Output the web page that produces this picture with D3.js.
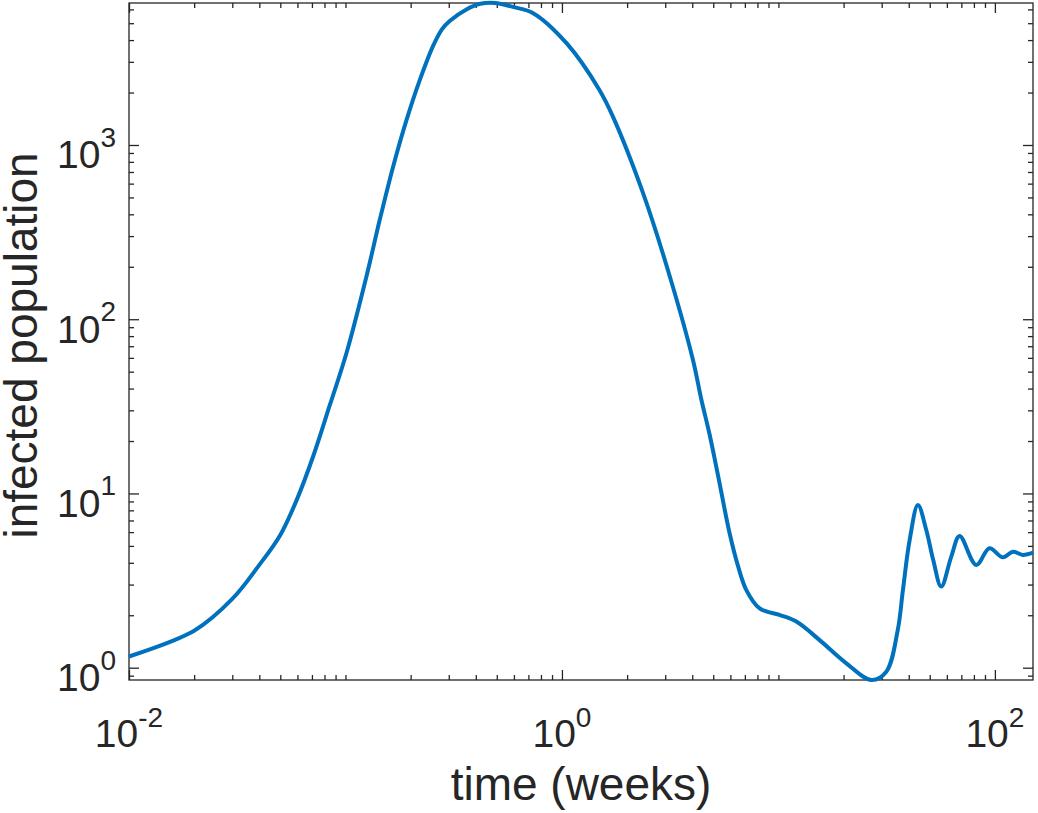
<html>

<head>
    <title>infected population</title>
    <script src="https://d3js.org/d3.v7.min.js"></script>
    <style>
        body {
            margin: 0;
            background: #fff;
        }

        svg {
            font-family: "Liberation Sans", Arial, Helvetica, sans-serif;
        }

        .line {
            stroke: #0072BD;
            stroke-width: 4;
            fill: none;
        }

        .frame {
            fill: none;
            stroke: #262626;
            stroke-width: 1.3;
        }

        .axis line {
            stroke: #262626;
            stroke-width: 1.3;
        }

        .tick-label {
            font-size: 39px;
            fill: #262626;
        }

        .title-text {
            font-size: 46px;
            fill: #262626;
        }
    </style>
</head>

<body>
    <div id="chart">
        <script>
            // time in weeks and infected population
            var timeWeeks = [0.01, 0.02, 0.03, 0.04, 0.05, 0.06, 0.071, 0.0847, 0.101, 0.125,
                0.144, 0.166, 0.1915, 0.2206, 0.254, 0.28, 0.303, 0.362, 0.42, 0.49, 0.6,
                0.736, 1.05, 1.49, 1.72, 2.37, 3.15, 4.03, 4.41, 4.81, 5.26,
                5.95, 6.52, 7.11, 8.19, 10.1, 12.1, 15.5, 20.6, 26.9, 31.5,
                35.6, 37.6, 40.4, 44.1, 48.2, 51.9, 56.5, 62.9, 68.7, 82.0,
                94.4, 108.8, 121, 134.6, 150];
            var infected = [1.16, 1.63, 2.48, 3.89, 5.78, 9.4, 16.4, 32.2, 63.8, 176,
                372, 751, 1393, 2364, 3705, 4640, 5150, 6000, 6460, 6530, 6180,
                5710, 3840, 2070, 1455, 529, 176, 58.4, 34.4, 21.8, 12.7,
                5.91, 3.8, 2.79, 2.19, 2.01, 1.84, 1.44, 1.06, 0.85, 0.948,
                1.65, 2.79, 5.41, 8.59, 6.17, 4.15, 2.92, 4.34, 5.70, 3.89,
                4.85, 4.30, 4.63, 4.44, 4.57];

            var xMajorTicks = [0.01, 1, 100];
            var xTickExponents = ["-2", "0", "2"];
            var yMajorTicks = [1, 10, 100, 1000];
            var yTickExponents = ["0", "1", "2", "3"];

            var xTitle = "time (weeks)";
            var yTitle = "infected population";

            var width = 1038;
            var height = 813;
            var plotLeft = 129, plotRight = 1033, plotTop = 3, plotBottom = 680;
            var majorTick = 10, minorTick = 5;

            var data = timeWeeks.map((t, i) => ({ t: t, v: infected[i] }));

            /* Scale (tight to the data) */
            var xScale = d3.scaleLog()
                .domain(d3.extent(timeWeeks))
                .range([plotLeft, plotRight]);

            var yScale = d3.scaleLog()
                .domain(d3.extent(infected))
                .range([plotBottom, plotTop]);

            var svg = d3.select("#chart").append("svg")
                .attr("width", width)
                .attr("height", height);

            /* Ticks, inward on all four sides */
            var xMinor = xScale.ticks().filter(d => xMajorTicks.indexOf(d) < 0);
            var yMinor = yScale.ticks().filter(d => yMajorTicks.indexOf(d) < 0);

            function ticks(axisFn, scale, values, size, transform) {
                svg.append("g")
                    .attr("class", "axis")
                    .attr("transform", transform)
                    .call(axisFn(scale).tickValues(values).tickSizeInner(-size).tickSizeOuter(0).tickFormat(""))
                    .call(g => g.select(".domain").remove());
            }

            ticks(d3.axisBottom, xScale, xMajorTicks, majorTick, `translate(0, ${plotBottom})`);
            ticks(d3.axisBottom, xScale, xMinor, minorTick, `translate(0, ${plotBottom})`);
            ticks(d3.axisTop, xScale, xMajorTicks, majorTick, `translate(0, ${plotTop})`);
            ticks(d3.axisTop, xScale, xMinor, minorTick, `translate(0, ${plotTop})`);
            ticks(d3.axisLeft, yScale, yMajorTicks, majorTick, `translate(${plotLeft}, 0)`);
            ticks(d3.axisLeft, yScale, yMinor, minorTick, `translate(${plotLeft}, 0)`);
            ticks(d3.axisRight, yScale, yMajorTicks, majorTick, `translate(${plotRight}, 0)`);
            ticks(d3.axisRight, yScale, yMinor, minorTick, `translate(${plotRight}, 0)`);

            svg.append("rect")
                .attr("class", "frame")
                .attr("x", plotLeft)
                .attr("y", plotTop)
                .attr("width", plotRight - plotLeft)
                .attr("height", plotBottom - plotTop);

            /* Line */
            var line = d3.line()
                .x(d => xScale(d.t))
                .y(d => yScale(d.v))
                .curve(d3.curveCatmullRom.alpha(0.5));

            svg.append("path")
                .datum(data)
                .attr("class", "line")
                .attr("d", line);

            /* Tick labels 10^k */
            var xl = svg.append("g").selectAll("text")
                .data(xMajorTicks).enter()
                .append("text")
                .attr("class", "tick-label")
                .attr("text-anchor", "middle")
                .attr("x", d => xScale(d))
                .attr("y", plotBottom + 67);
            xl.append("tspan").text("10");
            xl.append("tspan")
                .attr("dy", -20)
                .style("font-size", "28px")
                .text((d, i) => xTickExponents[i]);

            var yl = svg.append("g").selectAll("text")
                .data(yMajorTicks).enter()
                .append("text")
                .attr("class", "tick-label")
                .attr("text-anchor", "end")
                .attr("x", plotLeft - 13)
                .attr("y", d => yScale(d) + 23.5);
            yl.append("tspan").text("10");
            yl.append("tspan")
                .attr("dy", -21.5)
                .style("font-size", "28px")
                .text((d, i) => yTickExponents[i]);

            /* Axis titles */
            svg.append("text")
                .attr("class", "title-text")
                .attr("text-anchor", "middle")
                .attr("x", (plotLeft + plotRight) / 2)
                .attr("y", 800)
                .text(xTitle);

            svg.append("text")
                .attr("class", "title-text")
                .attr("text-anchor", "middle")
                .attr("transform", `translate(37, ${(plotTop + plotBottom) / 2 + 4}) rotate(-90)`)
                .text(yTitle);
        </script>
    </div>
</body>

</html>
